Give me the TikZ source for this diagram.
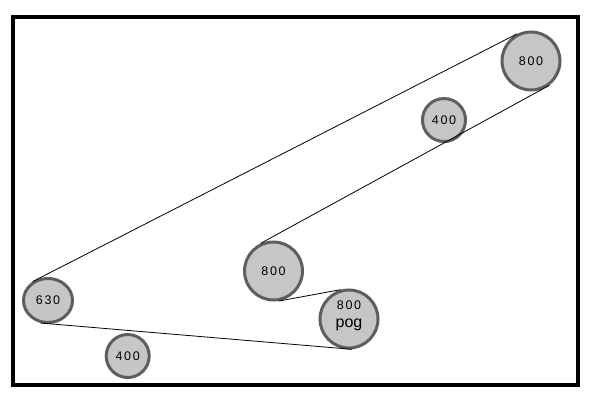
\documentclass[tikz,border=0pt]{standalone}
\usepackage{fontspec}
\setmainfont{Liberation Sans}
\newfontfamily\numfont[LetterSpace=14]{Liberation Sans}
\usetikzlibrary{shapes.geometric}
\definecolor{ballfill}{HTML}{C6C6C6}
\definecolor{balledge}{HTML}{5E5E5E}
\tikzset{
  numtext/.style={font=\numfont\fontsize{12.5}{14}\selectfont},
  ball/.style={ellipse, draw=balledge, fill=ballfill, line width=3pt, inner sep=0pt, numtext},
  belt/.style={black, line width=0.8pt},
  frame/.style={black, line width=4pt}
}
\begin{document}
\begin{tikzpicture}[x=1pt,y=-1pt]
\useasboundingbox (0,0) rectangle (598,404);
\draw[frame] (13,17) rectangle (578,385);
\node[ball, minimum width=58pt, minimum height=58pt] (tr) at (531,61) {800};
\node[ball, minimum width=43pt, minimum height=43pt] (ur) at (444,120) {400};
\node[ball, minimum width=58pt, minimum height=58pt] (mid) at (273.5,271) {800};
\node[ball, minimum width=58pt, minimum height=58pt] (pog) at (349,319) {};
\node[numtext, align=center, inner sep=0pt] (pogtext) at ([yshift=3pt]pog.center) {800\\[4pt]{\normalfont\fontsize{16}{16}\selectfont pog}};
\node[ball, minimum width=49pt, minimum height=44pt] (six) at (48,300.5) {630};
\node[ball, minimum width=43pt, minimum height=43pt] (lo) at (127.7,356) {400};
\draw[belt] (six.129) -- (tr.117);
\draw[belt] (mid.115) -- (tr.-53);
\draw[belt] (mid.-80) -- (pog.106);
\draw[belt] (six.-108) -- (pog.-84);
\end{tikzpicture}
\end{document}
